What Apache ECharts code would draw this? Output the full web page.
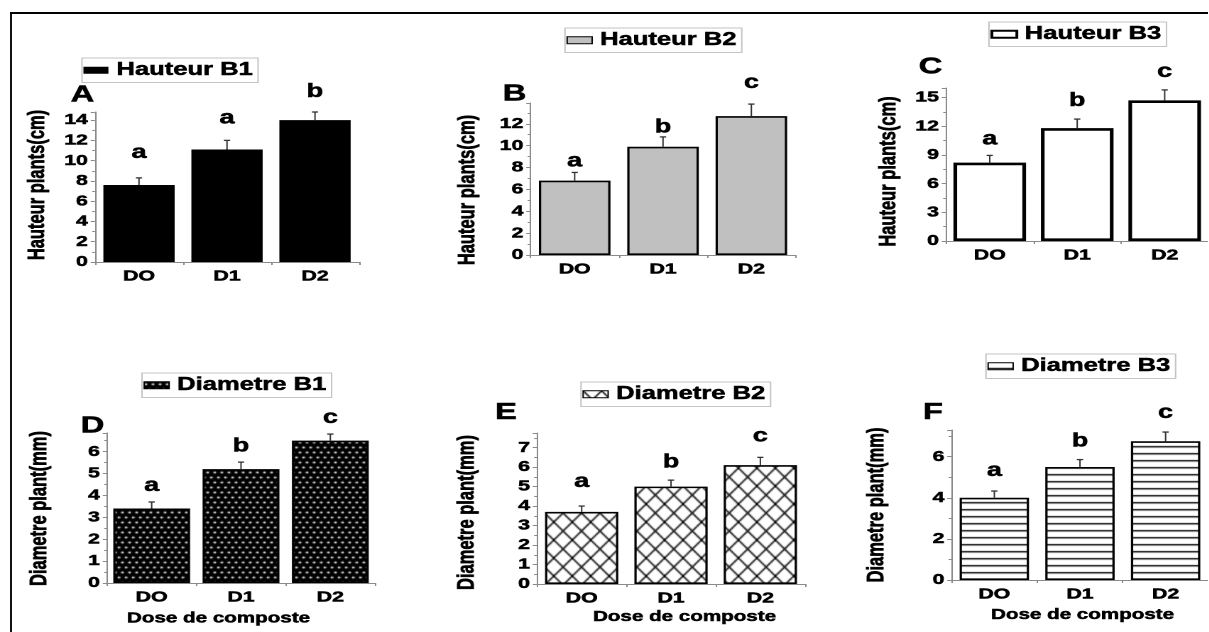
<!DOCTYPE html>
<html><head><meta charset="utf-8">
<script src="https://cdn.jsdelivr.net/npm/echarts@6/dist/echarts.min.js"></script>
<style>
html,body{margin:0;padding:0;overflow:hidden;background:#fff}
#wrap{width:1209px;height:632px;overflow:hidden;position:relative;background:#fff}
#c{position:absolute;left:0;top:0;height:632px;transform-origin:0 0}
</style></head><body><div id="wrap"><div id="c"></div></div>
<script>
// ---------------- DATA ----------------
const categories = ['DO', 'D1', 'D2'];

const hauteurB1 = [7.6, 11.1, 14.0];
const hauteurB1Err = [0.7, 0.9, 0.8];
const hauteurB1Letters = ['a', 'a', 'b'];

const hauteurB2 = [6.8, 9.9, 12.7];
const hauteurB2Err = [0.75, 0.9, 1.1];
const hauteurB2Letters = ['a', 'b', 'c'];

const hauteurB3 = [8.2, 11.8, 14.7];
const hauteurB3Err = [0.75, 0.95, 1.1];
const hauteurB3Letters = ['a', 'b', 'c'];

const diametreB1 = [3.4, 5.2, 6.5];
const diametreB1Err = [0.3, 0.32, 0.3];
const diametreB1Letters = ['a', 'b', 'c'];

const diametreB2 = [3.7, 5.0, 6.1];
const diametreB2Err = [0.3, 0.33, 0.4];
const diametreB2Letters = ['a', 'b', 'c'];

const diametreB3 = [4.0, 5.5, 6.75];
const diametreB3Err = [0.33, 0.36, 0.45];
const diametreB3Letters = ['a', 'b', 'c'];

// axis ranges / tick intervals (tick labels are multiples of the interval)
const axisMax = [14.8, 13.9, 16, 6.85, 7.75, 7.3];
const tickInterval = [2, 2, 3, 1, 1, 2];

const seriesNames = ['Hauteur B1', 'Hauteur B2', 'Hauteur B3', 'Diametre B1', 'Diametre B2', 'Diametre B3'];
const panelLetters = ['A', 'B', 'C', 'D', 'E', 'F'];
const yAxisNames = ['Hauteur plants(cm)', 'Hauteur plants(cm)', 'Hauteur plants(cm)',
                    'Diametre plant(mm)', 'Diametre plant(mm)', 'Diametre plant(mm)'];
const xAxisName = 'Dose de composte';

// ---------------- LAYOUT (screen px of the 1209x632 picture) ----------------
const S = 1.42;                 // horizontal stretch of the original figure
const X = v => v / S;
const FONT = '"Liberation Sans", Arial, sans-serif';
const HEAVY = 0.5;              // extra stroke to mimic the heavy printed text

function makeTile(w, h, draw) {
  const c = document.createElement('canvas'); c.width = w; c.height = h;
  const g = c.getContext('2d'); draw(g, w, h); return c;
}
const patDots = makeTile(5, 10, g => {
  g.fillStyle = '#000'; g.fillRect(0, 0, 5, 10);
  g.fillStyle = '#fff';
  [[1.25, 2.5], [3.75, 7.5]].forEach(p => { g.beginPath(); g.arc(p[0], p[1], 0.95, 0, Math.PI * 2); g.fill(); });
});
const patCross = makeTile(13, 18, (g, w, h) => {
  g.fillStyle = '#fff'; g.fillRect(0, 0, w, h);
  g.strokeStyle = '#000'; g.lineWidth = 1.2;
  for (let i = -1; i <= 1; i++) for (let j = -1; j <= 1; j++) {
    g.beginPath(); g.moveTo(i * w, j * h); g.lineTo((i + 1) * w, (j + 1) * h); g.stroke();
    g.beginPath(); g.moveTo((i + 1) * w, j * h); g.lineTo(i * w, (j + 1) * h); g.stroke();
  }
});
const patStripes = makeTile(4, 7, (g, w, h) => {
  g.fillStyle = '#fff'; g.fillRect(0, 0, w, h);
  g.fillStyle = '#000'; g.fillRect(0, 5, w, 1.4);
});

const panels = [
  { values: hauteurB1, err: hauteurB1Err, letters: hauteurB1Letters,
    left: 95, width: 264, top: 112, y0: 262, barW: '81%',
    fill: '#000', bw: 0, legend: [82, 58], letterPos: [82.5, 95], yNamePos: [37.5, 185],
    gaps: [19, 16, 14] },
  { values: hauteurB2, err: hauteurB2Err, letters: hauteurB2Letters,
    left: 530.5, width: 265, top: 103, y0: 255, barW: '81%',
    fill: '#c0c0c0', bw: 1.6, legend: [565, 28], letterPos: [514.5, 94], yNamePos: [468, 190],
    gaps: [5, 3.5, 15] },
  { values: hauteurB3, err: hauteurB3Err, letters: hauteurB3Letters,
    left: 946, width: 263, top: 88, y0: 241, barW: '83%',
    fill: '#fff', bw: 2.6, legend: [989, 22], letterPos: [930.5, 67], yNamePos: [889, 171.5],
    gaps: [10, 12, 12] },
  { values: diametreB1, err: diametreB1Err, letters: diametreB1Letters,
    left: 107, width: 268, top: 433, y0: 583, barW: '86%',
    fill: { image: patDots, repeat: 'repeat' }, bw: 1.6, legend: [142, 373], letterPos: [92.5, 426], yNamePos: [40, 508.5],
    gaps: [10, 10, 10], xNamePos: [218.5, 618.5] },
  { values: diametreB2, err: diametreB2Err, letters: diametreB2Letters,
    left: 537, width: 268, top: 433, y0: 584, barW: '82%',
    fill: { image: patCross, repeat: 'repeat' }, bw: 1.6, legend: [581, 382], letterPos: [506, 412.5], yNamePos: [467, 512.5],
    gaps: [18, 12, 15], xNamePos: [684.5, 617] },
  { values: diametreB3, err: diametreB3Err, letters: diametreB3Letters,
    left: 951.5, width: 264, top: 430, y0: 580, barW: '81%',
    fill: { image: patStripes, repeat: 'repeat' }, bw: 1.6, legend: [986, 354], letterPos: [933, 412.5], yNamePos: [877, 505],
    gaps: [14, 12, 13], xNamePos: [1082.5, 615] }
];

// ---------------- OPTION ----------------
const axisGray = '#8a8a8a';
const grid = [], xAxis = [], yAxis = [], series = [], legend = [], graphic = [];
const heavyText = { textBorderColor: '#000', textBorderWidth: HEAVY };

panels.forEach((p, i) => {
  grid.push({ left: X(p.left), width: X(p.width), top: p.top, height: p.y0 - p.top, containLabel: false });
  xAxis.push({
    type: 'category', gridIndex: i, data: categories,
    axisLine: { lineStyle: { color: axisGray, width: 1 } },
    axisTick: { show: true, length: 3, lineStyle: { color: axisGray } },
    axisLabel: Object.assign({ margin: 7, color: '#000', fontFamily: FONT, fontWeight: 'bold', fontSize: 15 }, heavyText),
    splitLine: { show: false }
  });
  const iv = tickInterval[i];
  yAxis.push({
    type: 'value', gridIndex: i, min: 0, max: axisMax[i], interval: iv,
    axisLine: { show: true, lineStyle: { color: axisGray, width: 1 } },
    axisTick: { show: true, length: 3, lineStyle: { color: axisGray } },
    minorTick: { show: true, splitNumber: 2, length: 2, lineStyle: { color: axisGray } },
    axisLabel: Object.assign({ margin: 5, color: '#000', fontFamily: FONT, fontWeight: 'bold', fontSize: 15,
      formatter: v => (Math.abs(v / iv - Math.round(v / iv)) < 1e-6 ? String(v) : '') }, heavyText),
    splitLine: { show: false }
  });
  const itemStyle = { color: p.fill, borderColor: '#000', borderWidth: p.bw };
  series.push({
    name: seriesNames[i], type: 'bar', xAxisIndex: i, yAxisIndex: i,
    data: p.values, barWidth: p.barW, itemStyle, silent: true, z: 2
  });
  series.push({
    type: 'custom', xAxisIndex: i, yAxisIndex: i, z: 5, silent: true, clip: false,
    data: p.values.map((v, k) => [k, v, p.err[k]]),
    encode: { x: 0, y: 1 },
    renderItem: (params, api) => {
      const k = api.value(0), v = api.value(1), e = api.value(2);
      const a = api.coord([k, v]), b = api.coord([k, v + e]);
      const cap = 2.2;
      return { type: 'group', children: [
        { type: 'line', shape: { x1: a[0], y1: a[1], x2: b[0], y2: b[1] }, style: { stroke: '#333', lineWidth: 1 } },
        { type: 'line', shape: { x1: b[0] - cap, y1: b[1], x2: b[0] + cap, y2: b[1] }, style: { stroke: '#333', lineWidth: 1.3 } },
        { type: 'text', x: b[0], y: b[1] - p.gaps[k] + 3.4,
          style: { text: p.letters[k], fill: '#000', stroke: '#000', lineWidth: HEAVY, font: 'bold 19px ' + FONT, align: 'center', verticalAlign: 'bottom' } }
      ] };
    }
  });
  legend.push({
    data: [{ name: seriesNames[i], itemStyle: { color: p.fill, borderColor: '#000', borderWidth: i === 2 ? 2 : (i === 0 ? 0 : 1) } }],
    left: X(p.legend[0]), top: p.legend[1], orient: 'horizontal', selectedMode: false,
    itemWidth: X(25), itemHeight: 7, icon: 'rect',
    padding: [3, 3.5, 3, 1], borderColor: '#c4c4c4', borderWidth: 1,
    textStyle: Object.assign({ color: '#000', fontFamily: FONT, fontWeight: 'bold', fontSize: 18, padding: [0, 0, 0, 0.6] }, heavyText)
  });
  graphic.push({ type: 'text', x: X(p.letterPos[0]), y: p.letterPos[1],
    style: { text: panelLetters[i], fill: '#000', stroke: '#000', lineWidth: HEAVY, font: 'bold 23px ' + FONT, align: 'center', verticalAlign: 'middle' } });
  graphic.push({ type: 'text', x: X(p.yNamePos[0]), y: p.yNamePos[1], rotation: Math.PI / 2,
    style: { text: yAxisNames[i], fill: '#000', stroke: '#000', lineWidth: HEAVY, font: 'bold 16.5px ' + FONT, align: 'center', verticalAlign: 'middle' } });
  if (p.xNamePos) {
    graphic.push({ type: 'text', x: X(p.xNamePos[0]), y: p.xNamePos[1],
      style: { text: xAxisName, fill: '#000', stroke: '#000', lineWidth: HEAVY, font: 'bold 14.5px ' + FONT, align: 'center', verticalAlign: 'middle' } });
  }
});

// figure frame (top and left edges)
graphic.push({ type: 'line', shape: { x1: X(10), y1: 13, x2: X(1209), y2: 13 }, style: { stroke: '#000', lineWidth: 2 } });
graphic.push({ type: 'line', shape: { x1: X(11), y1: 12, x2: X(11), y2: 632 }, style: { stroke: '#000', lineWidth: 1.4 } });

const el = document.getElementById('c');
el.style.width = (1209 / S) + 'px';
el.style.transform = 'scaleX(' + S + ')';
const chart = echarts.init(el, null, { renderer: 'canvas', devicePixelRatio: 2 });
chart.setOption({
  animation: false, backgroundColor: '#fff',
  grid, xAxis, yAxis, series, legend, graphic
});
</script></body></html>
